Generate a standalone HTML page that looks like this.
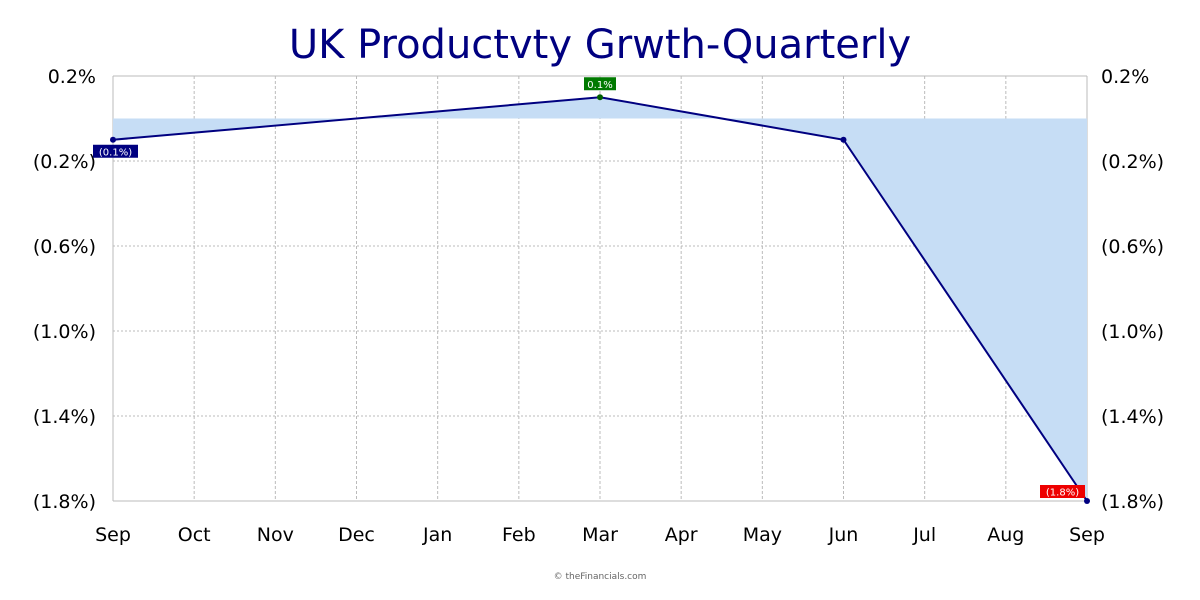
<!DOCTYPE html>
<html><head><meta charset="utf-8"><style>
body{margin:0;background:#fff;}
svg{display:block;font-family:"DejaVu Sans","Liberation Sans",sans-serif;}
</style></head><body>
<svg id="chart" width="1200" height="600">
<text x="600" y="58" text-anchor="middle" font-size="40" fill="#000080">UK Productvty Grwth-Quarterly</text>
<g id="grid"></g><g id="area"></g><g id="axes"></g><g id="marks"></g>
<text x="600" y="579" text-anchor="middle" font-size="9" fill="#666">© theFinancials.com</text>
</svg>
<script>
const months=["Sep","Oct","Nov","Dec","Jan","Feb","Mar","Apr","May","Jun","Jul","Aug","Sep"];
const pointIdx=[0,6,9,12];
const pointVals=[-0.1,0.1,-0.1,-1.8];
const pointLabels=["(0.1%)","0.1%","(0.1%)","(1.8%)"];
const yTicks=[0.2,-0.2,-0.6,-1.0,-1.4,-1.8];
const yTickLabels=["0.2%","(0.2%)","(0.6%)","(1.0%)","(1.4%)","(1.8%)"];
const NS="http://www.w3.org/2000/svg";
const X0=113,X1=1087,Y0=76,Y1=501,YMAX=0.2,YMIN=-1.8;
const xs=i=>X0+(X1-X0)*i/(months.length-1);
const ys=v=>Y0+(YMAX-v)/(YMAX-YMIN)*(Y1-Y0);
function mk(tag,attrs,parent){const e=document.createElementNS(NS,tag);for(const k in attrs)e.setAttribute(k,attrs[k]);document.getElementById(parent).appendChild(e);return e;}
months.forEach((m,i)=>{
 const l=mk('line',{x1:xs(i),x2:xs(i),y1:Y0,y2:Y1,stroke:'#bbb','stroke-dasharray':(i==0||i==months.length-1)?'':'3,2'},'grid');
 
 
 const t=mk('text',{x:xs(i),y:541,'text-anchor':'middle','font-size':19,fill:'#000'},'axes');
 t.textContent=m;
 
 
});
yTicks.forEach((v,i)=>{
 const l=mk('line',{x1:X0,x2:X1,y1:ys(v),y2:ys(v),stroke:'#bbb','stroke-dasharray':(i==0||i==yTicks.length-1)?'':'2,2'},'grid');
 
 
 const a=mk('text',{x:96,y:ys(v)+7,'text-anchor':'end','font-size':19,fill:'#000'},'axes');
 a.textContent=yTickLabels[i];
 
 
 const b=mk('text',{x:1101,y:ys(v)+7,'text-anchor':'start','font-size':19,fill:'#000'},'axes');
 b.textContent=yTickLabels[i];
 
 
});
let pts=pointIdx.map((m,i)=>xs(m)+','+ys(pointVals[i]));
const poly=mk('polygon',{points:xs(pointIdx[0])+','+ys(0)+' '+pts.join(' ')+' '+xs(pointIdx[pointIdx.length-1])+','+ys(0),fill:'#c6ddf5'},'area');


const line=mk('polyline',{points:pts.join(' '),fill:'none',stroke:'#000080','stroke-width':2},'marks');


pointIdx.forEach((m,i)=>{
 const x=xs(m),y=ys(pointVals[i]);
 const last=i==pointIdx.length-1, first=i==0, up=pointVals[i]>0;
 const col=last?'#e00':up?'#007a00':(first?'#000080':'#000080');
 const c=mk('circle',{cx:x,cy:y,r:3,fill:up?'#006000':'#000080'},'marks');
 
 
 if(i==2)return;
 const w=pointLabels[i].length*6.5+6;
 let bx=first?x-20:last?x-47:x-w/2, by=first?y+5:last?y-16:y-20;
 const r=mk('rect',{x:bx,y:by,width:w,height:13,fill:col},'marks');
 
 
 const t=mk('text',{x:bx+w/2,y:by+10.5,'text-anchor':'middle','font-size':10,fill:'#fff'},'marks');
 t.textContent=pointLabels[i];
 
 
});
</script>
</body></html>
